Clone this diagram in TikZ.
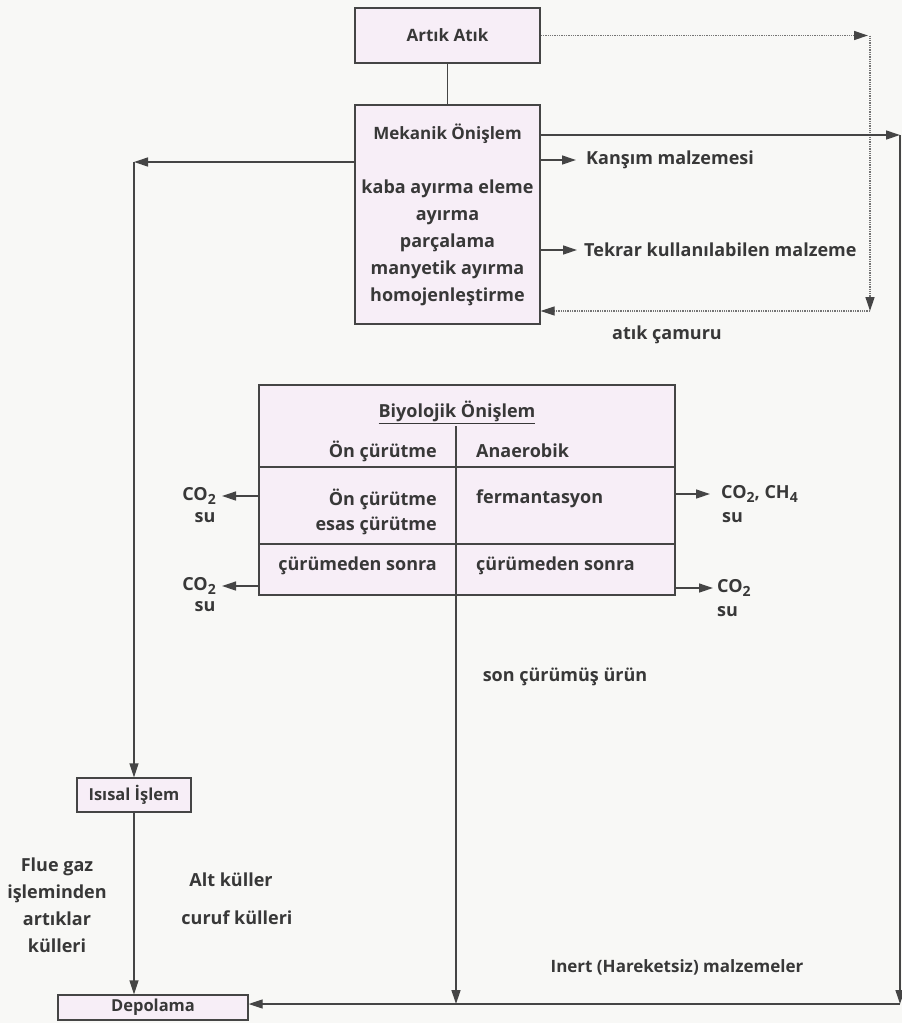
\documentclass[tikz,border=0pt]{standalone}
\usepackage{fontspec}
\setmainfont{Open Sans}
\usetikzlibrary{arrows.meta}
\definecolor{ink}{HTML}{383838}
\definecolor{linec}{HTML}{454545}
\definecolor{boxfill}{HTML}{F7EEF7}
\definecolor{paper}{HTML}{F8F8F6}
\newcommand{\mysub}[1]{\raisebox{-0.45ex}{\fontsize{14}{14}\selectfont #1}}
\begin{document}
\begin{tikzpicture}[x=1pt,y=-1pt,
  every node/.style={font=\fontsize{18}{27}\selectfont\bfseries, text=ink, inner sep=2pt},
  box/.style={draw=linec, line width=1.3pt, fill=boxfill, inner sep=0pt},
  conn/.style={draw=linec, line width=1.3pt, -{Triangle[length=14pt,width=9pt]}},
  plain/.style={draw=linec, line width=1.3pt},
  faint/.style={draw=linec!75, line width=1.3pt, densely dotted, -{Triangle[length=14pt,width=9pt,color=linec]}},
  tight/.style={font=\fontsize{18}{25}\selectfont\bfseries},
  small/.style={font=\fontsize{16.5}{20}\selectfont\bfseries},
  mid/.style={font=\fontsize{17}{20}\selectfont\bfseries},
]
\fill[paper] (0,0) rectangle (902,1023);
\useasboundingbox (0,0) rectangle (902,1023);

% boxes
\node[box, mid, minimum width=185pt, minimum height=55pt] (atik) at (447.5,35.5) {Artık Atık};
\node[box, minimum width=185pt, minimum height=219pt, align=center] (mek) at (447.5,214.5)
  {{\fontsize{17}{27}\selectfont Mekanik Önişlem}\\[27pt]kaba ayırma eleme\\ayırma\\parçalama\\manyetik ayırma\\homojenleştirme};
\node[box, minimum width=416pt, minimum height=210pt] (bio) at (467,490) {};
\node[box, small, minimum width=114pt, minimum height=34pt] (isi) at (134,795) {Isısal İşlem};
\node[box, small, minimum width=190pt, minimum height=25pt] (depo) at (153,1007.5) {Depolama};

% biological table
\coordinate (div) at (456,426);
\draw[plain, line width=1.1pt] (div) -- (div |- bio.south);
\coordinate (h1) at (0,467);
\coordinate (h2) at (0,544);
\draw[plain, line width=1.1pt] (bio.west |- h1) -- (bio.east |- h1);
\draw[plain, line width=1.1pt] (bio.west |- h2) -- (bio.east |- h2);
\node (biot) at (457,412) {\underline{Biyolojik Önişlem}};
\node[anchor=east] (r1l) at (439,451) {Ön çürütme};
\node[anchor=west] (r1r) at (474,451) {Anaerobik};
\node[anchor=east, align=right, tight] (r2l) at (439,512) {Ön çürütme\\esas çürütme};
\node[anchor=west] (r2r) at (474,499) {fermantasyon};
\node[anchor=east] (r3l) at (439,566) {çürümeden sonra};
\node[anchor=west] (r3r) at (474,566) {çürümeden sonra};

% gas labels
\node[anchor=east, inner xsep=6pt] (co2a) at (222,496) {CO\mysub{2}};
\node (sua) at (205,518) {su};
\node[anchor=east, inner xsep=6pt] (co2c) at (222,586) {CO\mysub{2}};
\node (suc) at (205,607) {su};
\node[anchor=west, inner xsep=11pt] (co2b) at (710,494) {CO\mysub{2}, CH\mysub{4}};
\node[anchor=west] (sub) at (720,518) {su};
\node[anchor=west, inner xsep=4pt] (co2d) at (713,588) {CO\mysub{2}};
\node[anchor=west] (sud) at (715,612) {su};

% other labels
\node[anchor=west, inner xsep=10pt] (kar) at (576,160) {Kanşım malzemesi};
\node[anchor=west, inner xsep=7pt] (tek) at (577,250) {Tekrar kullanılabilen malzeme};
\node (camur) at (667,335) {atık çamuru};
\node (son) at (565,677) {son çürümüş ürün};
\node[mid] (inert) at (677,967) {Inert (Hareketsiz) malzemeler};
\node[align=center] (flue) at (57,905) {Flue gaz\\işleminden\\artıklar\\külleri};
\node (alt) at (231,880) {Alt küller};
\node (curuf) at (237,918) {curuf külleri};

% coordinates
\coordinate (t1) at (868,35.5);
\coordinate (t2) at (870,311);
\coordinate (m1) at (900,135);
\coordinate (m2) at (900,1004);
\coordinate (l1) at (134,162);

% connectors
\draw[plain] (atik.south) -- (mek.north);
\draw[faint] (atik.east) -- (t1);
\draw[faint] (t1 -| t2) -- (t2);
\draw[faint] (t2) -- (mek.east |- t2);
\draw[conn] (mek.east |- m1) -- (m1);
\draw[conn] (m1) -- (m2);
\draw[conn] (m2) -- (depo.east |- m2);
\draw[conn] (mek.east |- kar.west) -- (kar.west);
\draw[conn] (mek.east |- tek.west) -- (tek.west);
\draw[conn] (mek.west |- l1) -- (l1);
\draw[conn] (l1) -- (isi.north);
\draw[conn] (isi.south) -- (isi.south |- depo.north);
\draw[conn] (div |- bio.south) -- (div |- m2);
\draw[conn] (bio.west |- co2a.east) -- (co2a.east);
\draw[conn] (bio.west |- co2c.east) -- (co2c.east);
\draw[conn] (bio.east |- co2b.west) -- (co2b.west);
\draw[conn] (bio.east |- co2d.west) -- (co2d.west);
\end{tikzpicture}
\end{document}
